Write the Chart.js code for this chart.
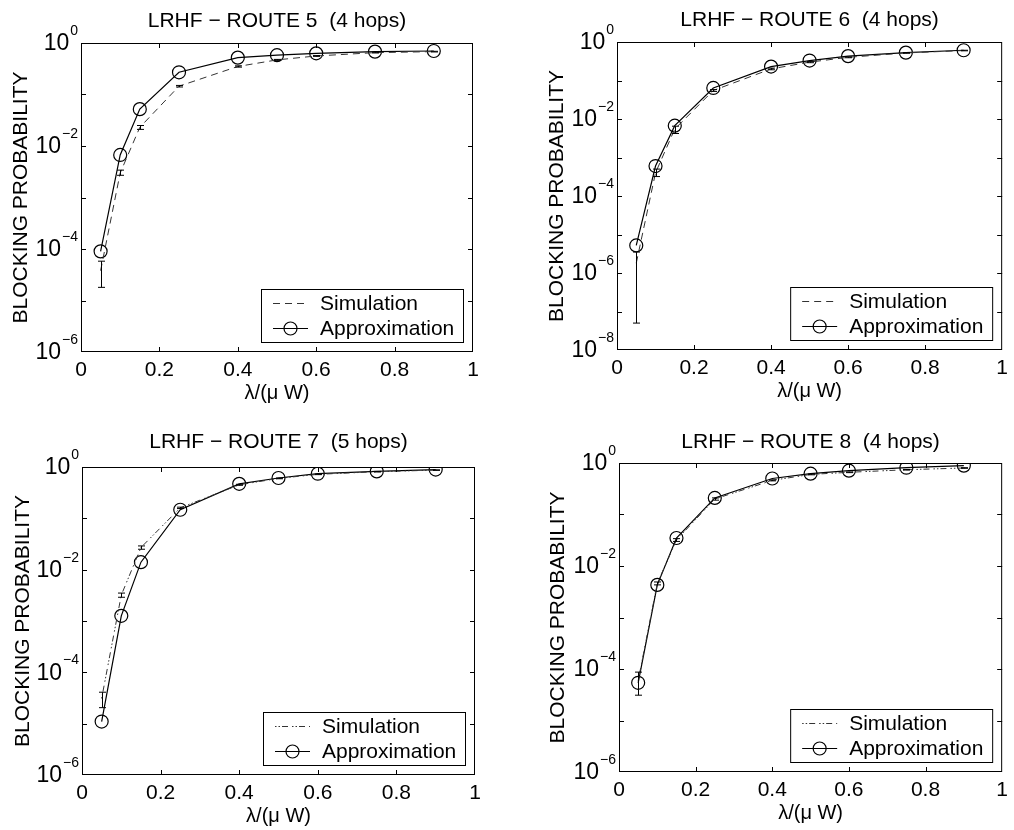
<!DOCTYPE html>
<html>
<head>
<meta charset="utf-8">
<script src="https://cdn.jsdelivr.net/npm/chart.js@4.4.1/dist/chart.umd.min.js"></script>
<style>
  html, body { margin: 0; padding: 0; background: #fff; }
  #wrap { position: relative; width: 1014px; height: 830px; }
  .cell { position: absolute; width: 507px; height: 415px; }
</style>
</head>
<body>
<div id="wrap">
  <div class="cell" style="left:0;top:0"><canvas id="route5" width="507" height="415"></canvas></div>
  <div class="cell" style="left:507px;top:0"><canvas id="route6" width="507" height="415"></canvas></div>
  <div class="cell" style="left:0;top:415px"><canvas id="route7" width="507" height="415"></canvas></div>
  <div class="cell" style="left:507px;top:415px"><canvas id="route8" width="507" height="415"></canvas></div>
</div>
<script>
// load values (lambda / (mu W)) shared by all four routes
var lambdaValues = [0.05, 0.1, 0.15, 0.25, 0.4, 0.5, 0.6, 0.75, 0.9];

// route 5
var route5Approx  = [9e-5, 6.7e-3, 0.052, 0.27, 0.52, 0.58, 0.63, 0.68, 0.70];
var route5Sim     = [3.8e-5, 3.0e-3, 0.023, 0.145, 0.35, 0.47, 0.56, 0.65, 0.68];
var route5SimLow  = [1.8e-5, 2.7e-3, 0.021, 0.14, 0.34, 0.46, 0.55, 0.64, 0.67];
var route5SimHigh = [5.8e-5, 3.4e-3, 0.025, 0.15, 0.36, 0.48, 0.57, 0.66, 0.69];

// route 6
var route6Approx  = [5.2e-6, 6.0e-4, 6.7e-3, 0.064, 0.23, 0.33, 0.43, 0.53, 0.61];
var route6Sim     = [1.8e-6, 4.0e-4, 5.5e-3, 0.055, 0.20, 0.30, 0.40, 0.52, 0.60];
var route6SimLow  = [5e-8, 3.2e-4, 4.2e-3, 0.052, 0.19, 0.29, 0.39, 0.51, 0.59];
var route6SimHigh = [3.5e-6, 5.0e-4, 6.5e-3, 0.058, 0.21, 0.31, 0.41, 0.53, 0.61];

// route 7
var route7Approx  = [1.1e-5, 1.26e-3, 0.014, 0.147, 0.47, 0.61, 0.74, 0.82, 0.89];
var route7Sim     = [3.1e-5, 3.2e-3, 0.027, 0.16, 0.45, 0.60, 0.72, 0.81, 0.87];
var route7SimLow  = [2.05e-5, 2.9e-3, 0.025, 0.155, 0.44, 0.59, 0.71, 0.80, 0.86];
var route7SimHigh = [4.1e-5, 3.5e-3, 0.029, 0.165, 0.46, 0.61, 0.73, 0.82, 0.88];

// route 8
var route8Approx  = [5.4e-5, 4.3e-3, 0.035, 0.21, 0.50, 0.62, 0.71, 0.81, 0.89];
var route8Sim     = [5.9e-5, 4.6e-3, 0.032, 0.20, 0.46, 0.60, 0.66, 0.74, 0.80];
var route8SimLow  = [3.1e-5, 4.3e-3, 0.030, 0.19, 0.45, 0.59, 0.65, 0.73, 0.79];
var route8SimHigh = [8.7e-5, 4.9e-3, 0.034, 0.21, 0.47, 0.61, 0.67, 0.75, 0.81];

// tick labels
var yExponentsShort = [0, -2, -4, -6];
var yExponentsLong  = [0, -2, -4, -6, -8];
var xTickStep = 0.2;

var legendLabels = ["Simulation", "Approximation"];

var FONT = "'Liberation Sans', Arial, Helvetica, sans-serif";
Chart.defaults.font.family = FONT;
Chart.defaults.color = "#000";

/*===================================================
        PANEL LAYOUT
===================================================*/

var panels = [
    {id: "route5", title: "LRHF \u2212 ROUTE 5  (4 hops)", approx: route5Approx, sim: route5Sim,
     low: route5SimLow, high: route5SimHigh, exps: yExponentsShort,
     plot: {left: 81, top: 43, right: 473, bottom: 352}, titleY: 21, yTitleX: 21, dash: [7, 5]},
    {id: "route6", title: "LRHF \u2212 ROUTE 6  (4 hops)", approx: route6Approx, sim: route6Sim,
     low: route6SimLow, high: route6SimHigh, exps: yExponentsLong,
     plot: {left: 110, top: 42, right: 501, bottom: 350}, titleY: 20, yTitleX: 50, dash: [7, 5]},
    {id: "route7", title: "LRHF \u2212 ROUTE 7  (5 hops)", approx: route7Approx, sim: route7Sim,
     low: route7SimLow, high: route7SimHigh, exps: yExponentsShort,
     plot: {left: 82, top: 52, right: 475, bottom: 360}, titleY: 27, yTitleX: 23, dash: [1.5, 2, 1.5, 2, 6, 4]},
    {id: "route8", title: "LRHF \u2212 ROUTE 8  (4 hops)", approx: route8Approx, sim: route8Sim,
     low: route8SimLow, high: route8SimHigh, exps: yExponentsShort,
     plot: {left: 112, top: 48, right: 503, bottom: 357}, titleY: 27, yTitleX: 51, dash: [1.5, 2, 1.5, 2, 6, 4]}
];

function toPoints(values) {
    var pts = [];
    for (var i = 0; i < lambdaValues.length; i++) {
        pts.push({x: lambdaValues[i], y: values[i]});
    }
    return pts;
}

// frame, inward ticks, error bars, y labels and legend, matlab style
var matlabFrame = {
    id: "matlabFrame",
    afterDatasetsDraw: function(chart) {
        var p = chart.options.plugins.matlabFrame.panel;
        var ctx = chart.ctx;
        var xs = chart.scales.x, ys = chart.scales.y;
        var a = chart.chartArea;

        ctx.save();
        ctx.strokeStyle = "#000";
        ctx.lineWidth = 1;

        // error bars on the simulation points
        for (var i = 0; i < lambdaValues.length; i++) {
            var px = Math.round(xs.getPixelForValue(lambdaValues[i])) + 0.5;
            var y1 = ys.getPixelForValue(p.low[i]);
            var y2 = ys.getPixelForValue(p.high[i]);
            ctx.beginPath();
            ctx.moveTo(px, y1); ctx.lineTo(px, y2);
            ctx.moveTo(px - 3.5, y1); ctx.lineTo(px + 3.5, y1);
            ctx.moveTo(px - 3.5, y2); ctx.lineTo(px + 3.5, y2);
            ctx.stroke();
        }

        // box
        ctx.strokeRect(a.left + 0.5, a.top + 0.5, a.right - a.left - 1, a.bottom - a.top - 1);

        // decade ticks on both sides
        var minExp = p.exps[p.exps.length - 1];
        ctx.beginPath();
        for (var e = minExp + 1; e < 0; e++) {
            var ty = Math.round(ys.getPixelForValue(Math.pow(10, e))) + 0.5;
            ctx.moveTo(a.left, ty); ctx.lineTo(a.left + 5, ty);
            ctx.moveTo(a.right, ty); ctx.lineTo(a.right - 5, ty);
        }
        for (var v = xTickStep; v < 0.99; v += xTickStep) {
            var tx = Math.round(xs.getPixelForValue(v)) + 0.5;
            ctx.moveTo(tx, a.bottom); ctx.lineTo(tx, a.bottom - 5);
            ctx.moveTo(tx, a.top); ctx.lineTo(tx, a.top + 5);
        }
        ctx.stroke();

        // y tick labels: 10 with a raised exponent
        ctx.fillStyle = "#000";
        ctx.textBaseline = "middle";
        ctx.textAlign = "left";
        p.exps.forEach(function(ex) {
            var ly = ys.getPixelForValue(Math.pow(10, ex));
            var expText = ex === 0 ? "0" : "\u2212" + Math.abs(ex);
            ctx.font = "23px " + FONT;
            var w10 = ctx.measureText("10").width;
            ctx.font = "14px " + FONT;
            var wExp = ctx.measureText(expText).width;
            var start = a.left - 4 - w10 - wExp;
            ctx.font = "23px " + FONT;
            ctx.fillText("10", start, ly + 1);
            ctx.font = "14px " + FONT;
            ctx.fillText(expText, start + w10 + 1, ly - 12);
        });

        // legend box in the lower right corner
        var bw = 202, bh = 53;
        var bx = a.right - 10 - bw, by = a.bottom - 10 - bh;
        ctx.fillStyle = "#fff";
        ctx.fillRect(bx, by, bw, bh);
        ctx.strokeRect(bx + 0.5, by + 0.5, bw, bh);

        var row1 = by + 14, row2 = by + 39;
        ctx.strokeStyle = "#333";
        ctx.setLineDash(p.dash);
        ctx.beginPath();
        ctx.moveTo(bx + 12, row1 + 0.5); ctx.lineTo(bx + 47, row1 + 0.5);
        ctx.stroke();
        ctx.setLineDash([]);
        ctx.strokeStyle = "#000";
        ctx.lineWidth = 1.2;
        ctx.beginPath();
        ctx.moveTo(bx + 12, row2 + 0.5); ctx.lineTo(bx + 47, row2 + 0.5);
        ctx.stroke();
        ctx.beginPath();
        ctx.arc(bx + 29.5, row2 + 0.5, 6.5, 0, Math.PI * 2);
        ctx.stroke();

        ctx.fillStyle = "#000";
        ctx.font = "21px " + FONT;
        ctx.fillText(legendLabels[0], bx + 59, row1 + 1);
        ctx.fillText(legendLabels[1], bx + 59, row2 + 1);
        ctx.restore();
    }
};

panels.forEach(function(p) {
    var W = 507, H = 415;
    var ctx = document.getElementById(p.id).getContext("2d");
    new Chart(ctx, {
        type: "line",
        data: {
            datasets: [{
                label: legendLabels[0],
                data: toPoints(p.sim),
                borderColor: "#333",
                borderWidth: 1,
                borderDash: p.dash,
                pointRadius: 0,
                fill: false,
                tension: 0
            }, {
                label: legendLabels[1],
                data: toPoints(p.approx),
                borderColor: "#000",
                borderWidth: 1.2,
                pointRadius: 6.5,
                pointBorderWidth: 1.2,
                pointBorderColor: "#000",
                pointBackgroundColor: "rgba(0,0,0,0)",
                fill: false,
                tension: 0
            }]
        },
        options: {
            responsive: false,
            animation: false,
            layout: {padding: {left: 0, top: 0, bottom: 0, right: W - p.plot.right}},
            plugins: {
                legend: {display: false},
                tooltip: {enabled: false},
                title: {
                    display: true,
                    text: p.title,
                    fullSize: false,
                    color: "#000",
                    font: {size: 21, weight: "normal", lineHeight: 1.2},
                    padding: {top: p.titleY - 12.6, bottom: p.plot.top - p.titleY - 12.6}
                },
                matlabFrame: {panel: p}
            },
            scales: {
                x: {
                    type: "linear",
                    min: 0,
                    max: 1,
                    grid: {display: false, drawTicks: false},
                    border: {display: false},
                    ticks: {
                        stepSize: xTickStep,
                        padding: 6,
                        maxRotation: 0,
                        autoSkip: false,
                        font: {size: 21},
                        color: "#000",
                        callback: function(v) { return Math.round(v * 10) / 10 + ""; }
                    },
                    title: {
                        display: true,
                        text: "\u03bb/(\u03bc W)",
                        font: {size: 20},
                        color: "#000",
                        padding: {top: 0, bottom: H - p.plot.bottom - 41 - 12}
                    },
                    afterFit: function(s) { s.height = H - p.plot.bottom; }
                },
                y: {
                    type: "logarithmic",
                    min: Math.pow(10, p.exps[p.exps.length - 1]),
                    max: 1,
                    grid: {display: false, drawTicks: false},
                    border: {display: false},
                    ticks: {display: false},
                    title: {
                        display: true,
                        text: "BLOCKING PROBABILITY",
                        font: {size: 21},
                        color: "#000",
                        padding: {top: p.yTitleX - 12.6, bottom: 0}
                    },
                    afterFit: function(s) { s.width = p.plot.left; }
                }
            }
        },
        plugins: [matlabFrame]
    });
});
</script>
</body>
</html>
